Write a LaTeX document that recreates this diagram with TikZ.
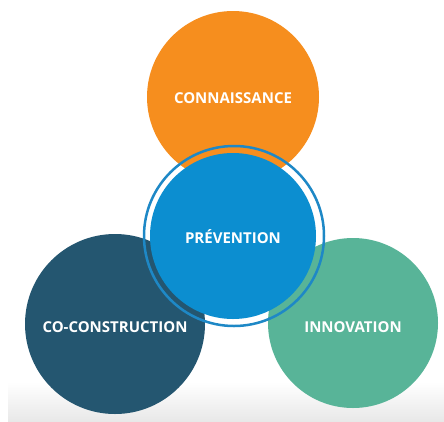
\documentclass[tikz,border=0pt]{standalone}
\usepackage{fontspec}
\setmainfont{Open Sans}
\definecolor{orangeC}{RGB}{246,142,30}
\definecolor{blueC}{RGB}{12,142,208}
\definecolor{ringC}{RGB}{30,136,198}
\definecolor{darkC}{RGB}{36,86,112}
\definecolor{greenC}{RGB}{88,180,152}
\definecolor{floorC}{RGB}{232,232,232}

\begin{document}
\begin{tikzpicture}[x=1pt, y=-1pt,
	disc/.style={circle, inner sep=0pt},
	txt/.style={text=white, font=\bfseries\fontsize{15}{18}\selectfont},
	]
	\useasboundingbox (0,0) rectangle (444,421);
	\shade[top color=white, bottom color=floorC] (8,382) rectangle (444,421);

	\node[disc, fill=orangeC, minimum size=172pt,
		label={[txt, yshift=-1pt]center:CONNAISSANCE}] (conn) at (233,97) {};
	\node[disc, fill=darkC, minimum size=180pt,
		label={[txt, yshift=-3pt]center:CO-CONSTRUCTION}] (coco) at (115,324) {};
	\node[disc, fill=greenC, minimum size=170pt,
		label={[txt, yshift=-4pt]center:INNOVATION}] (inno) at (353,323) {};

	\node[disc, draw=ringC, line width=2.5pt, minimum size=180pt] (ring) at (234,236) {};
	\node[disc, fill=blueC, minimum size=166pt,
		label={[txt, yshift=-1pt]center:PRÉVENTION}] (prev) at (233,236) {};
\end{tikzpicture}
\end{document}
